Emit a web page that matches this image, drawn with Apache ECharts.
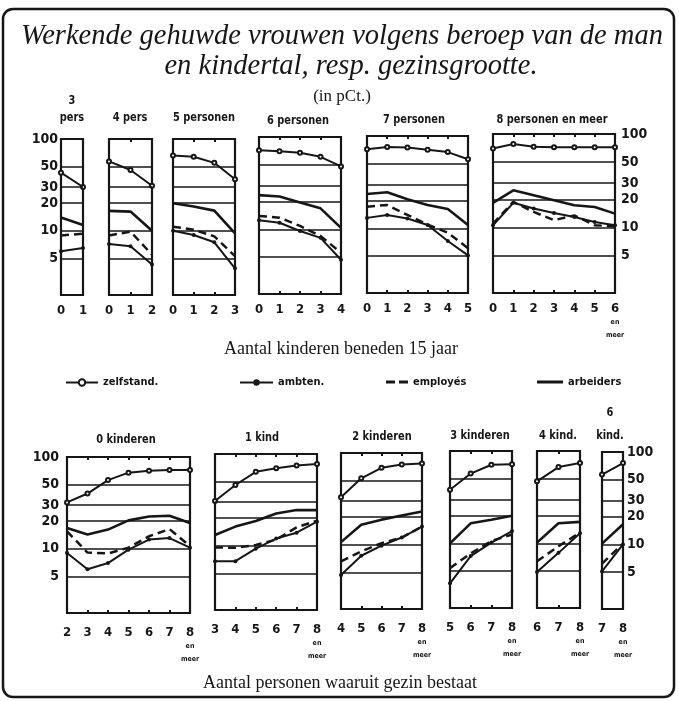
<!DOCTYPE html>
<html>
<head>
<meta charset="utf-8">
<script src="https://cdn.jsdelivr.net/npm/echarts@6/dist/echarts.min.js"></script>
<style>
  html, body { margin: 0; background: #fff; }
  #chart { width: 679px; height: 701px; }
</style>
</head>
<body>
<div id="chart"></div>
<script>
// waarden in pCt., logaritmische schaal
const yLabels = [5, 10, 20, 30, 50, 100];
const gridLines = [5, 10, 20, 30, 50];

// bovenste rij: gezinsgrootte, x = aantal kinderen beneden 15 jaar
const topTitles = ["3\npers", "4 pers", "5 personen", "6 personen", "7 personen", "8 personen en meer"];
const topCategories = [
  ["0", "1"],
  ["0", "1", "2"],
  ["0", "1", "2", "3"],
  ["0", "1", "2", "3", "4"],
  ["0", "1", "2", "3", "4", "5"],
  ["0", "1", "2", "3", "4", "5", "6"],
];
const topZelfstand = [
  [43, 30],
  [57, 46, 31],
  [66, 64, 55, 36.5],
  [72, 70, 67.5, 61, 48],
  [72, 76, 75, 71, 67, 56],
  [70, 78, 73, 72, 72, 72, 72],
];
const topAmbten = [
  [6, 6.5],
  [7.2, 6.8, 4.3],
  [10, 9, 7.5, 3.9],
  [12.6, 11.8, 9.6, 8.1, 4.7],
  [13, 14, 12.8, 10.9, 7.3, 5.1],
  [10.6, 18.4, 16, 14.3, 13, 11.5, 10.6],
];
const topEmployes = [
  [8.9, 9.3],
  [8.9, 9.8, 5.5],
  [11.1, 10.3, 8.7, 5.3],
  [14, 13.4, 10.9, 8.5, 5.6],
  [17.2, 17.9, 14, 11, 9, 6.1],
  [11, 18.8, 14.7, 12, 13.5, 10.6, 10.3],
];
const topArbeiders = [
  [14, 11.6],
  [16.5, 16.2, 10],
  [20, 18.4, 16.6, 9.4],
  [23.5, 22.7, 19.5, 16.9, 10.4],
  [23.6, 24.6, 20.7, 17.9, 16.2, 10.9],
  [18.4, 25, 22.2, 19.6, 17.3, 16.6, 14.1],
];

// onderste rij: aantal kinderen, x = aantal personen waaruit gezin bestaat
const bottomTitles = ["0 kinderen", "1 kind", "2 kinderen", "3 kinderen", "4 kind.", "6\nkind."];
const bottomCategories = [
  ["2", "3", "4", "5", "6", "7", "8"],
  ["3", "4", "5", "6", "7", "8"],
  ["4", "5", "6", "7", "8"],
  ["5", "6", "7", "8"],
  ["6", "7", "8"],
  ["7", "8"],
];
const bottomZelfstand = [
  [32, 40, 56, 67.5, 71, 72, 72],
  [30.8, 46, 64, 70, 75, 78],
  [33, 53, 69, 75, 77],
  [38, 57, 71, 72],
  [47, 67, 74],
  [57, 76],
];
const bottomAmbten = [
  [9, 6, 7, 9.8, 12.6, 13.1, 10.3],
  [6.8, 6.8, 9.3, 12, 13.9, 18.3],
  [4.7, 7.6, 9.8, 12, 15.8],
  [3.7, 7.3, 10.2, 13.6],
  [4.9, 7.9, 12.9],
  [5.1, 10],
];
const bottomEmployes = [
  [15.5, 9.1, 8.9, 10.3, 13.7, 16.4, 10.7],
  [9.6, 9.5, 10.2, 11.7, 15.9, 18.8],
  [6.6, 8.5, 10.4, 12, 15.8],
  [5.4, 7.8, 10.6, 12.5],
  [6.4, 9.3, 13.1],
  [6.2, 10.2],
];
const bottomArbeiders = [
  [16.9, 14.3, 16.2, 20.4, 22.5, 22.9, 19.1],
  [13.1, 16.2, 18.6, 22.5, 24.5, 24.5],
  [10.7, 16.5, 18.8, 20.9, 23.1],
  [10, 16.5, 18, 19.9],
  [10.2, 16.5, 17.1],
  [10.2, 16.5],
];

// plaats van de vakjes [left, top, width, height]
const boxes = [
  [61, 139, 22, 156], [109, 139, 43, 156], [173, 139, 62, 156],
  [259, 137, 82, 157], [367, 136, 101, 157], [493, 134, 122, 159],
  [67, 457, 123, 156], [215, 454, 102, 156], [341, 453, 81, 156],
  [450, 451, 62, 157], [537, 451, 43, 157], [602, 452, 21, 157],
];

const ink = "#161616";
const condensed = "'Liberation Sans Narrow', 'DejaVu Sans Condensed', 'Arial Narrow', sans-serif";
const serif = "'Liberation Serif', 'DejaVu Serif', serif";

const panels = [];
for (let i = 0; i < 6; i++) {
  panels.push({
    cats: topCategories[i], meer: i === 5, top: true,
    z: topZelfstand[i], a: topAmbten[i], e: topEmployes[i], w: topArbeiders[i],
  });
}
for (let i = 0; i < 6; i++) {
  panels.push({
    cats: bottomCategories[i], meer: true, top: false,
    z: bottomZelfstand[i], a: bottomAmbten[i], e: bottomEmployes[i], w: bottomArbeiders[i],
  });
}

const grid = [];
const xAxis = [];
const yAxis = [];
const series = [];

panels.forEach((p, i) => {
  const b = boxes[i];
  grid.push({
    left: b[0], top: b[1], width: b[2], height: b[3],
    show: true, borderColor: ink, borderWidth: 2.2, backgroundColor: "transparent",
  });
  const last = p.cats[p.cats.length - 1];
  xAxis.push({
    type: "category", gridIndex: i, data: p.cats, boundaryGap: false,
    axisLine: { show: false },
    axisTick: { show: true, inside: true, length: 3, lineStyle: { color: ink, width: 2 } },
    axisLabel: {
      interval: 0, color: ink, fontFamily: condensed, fontWeight: "bold", fontSize: 13,
      lineHeight: 15, margin: p.top ? 8 : 12,
      formatter: (v) => (p.meer && v === last ? v + "\n{s|en}\n{s|meer}" : v),
      rich: { s: { fontSize: 7, lineHeight: 13, fontWeight: "bold", fontFamily: condensed, color: ink } },
    },
  });
  xAxis.push({
    type: "category", gridIndex: i, data: p.cats, boundaryGap: false, position: "top",
    axisLine: { show: false }, axisLabel: { show: false },
    axisTick: { show: true, inside: true, length: 3, lineStyle: { color: ink, width: 2 } },
  });
  const leftLabels = i === 0 || i === 6;
  const rightLabels = i === 5 || i === 11;
  yAxis.push({
    type: "log", logBase: 10, min: 2, max: 100, gridIndex: i,
    position: rightLabels ? "right" : "left",
    axisLine: { show: false }, axisTick: { show: false }, splitLine: { show: false },
    axisLabel: {
      show: leftLabels || rightLabels,
      customValues: yLabels,
      formatter: (v) => String(Math.round(v)),
      color: ink, fontFamily: condensed, fontWeight: "bold", fontSize: 14,
      margin: i === 0 ? 3 : i === 6 ? 8 : i === 5 ? 6 : 4,
    },
  });

  const base = { type: "line", xAxisIndex: 2 * i, yAxisIndex: i, animation: false, silent: true, color: ink };
  series.push({
    ...base, name: "zelfstand.", data: p.z,
    symbol: "emptyCircle", symbolSize: 4, showSymbol: true,
    lineStyle: { color: ink, width: 2 },
    itemStyle: { color: ink, borderColor: ink, borderWidth: 1.4 },
    markLine: {
      silent: true, symbol: "none", label: { show: false },
      lineStyle: { color: ink, width: 1.5, type: "solid" },
      data: gridLines.map((v) => ({ yAxis: v })),
    },
  });
  series.push({
    ...base, name: "ambten.", data: p.a,
    symbol: "circle", symbolSize: 4, showSymbol: true,
    lineStyle: { color: ink, width: 2 }, itemStyle: { color: ink },
  });
  series.push({
    ...base, name: "employés", data: p.e, symbol: "none",
    lineStyle: { color: ink, width: 2.5, type: [8, 5] },
  });
  series.push({
    ...base, name: "arbeiders", data: p.w, symbol: "none",
    lineStyle: { color: ink, width: 2.6 },
  });
});

const legendText = { color: ink, fontFamily: condensed, fontWeight: "bold", fontSize: 11 };
const legend = [
  { data: ["zelfstand."], left: 60, top: 372, itemWidth: 32, itemHeight: 8 },
  { data: ["ambten."], left: 234, top: 372, itemWidth: 33, itemHeight: 8 },
  {
    data: [{ name: "employés", icon: "path://M0,0H9V3H0Z M13,0H22V3H13Z" }],
    left: 381, top: 371.5, itemWidth: 22, itemHeight: 3,
  },
  {
    data: [{ name: "arbeiders", icon: "rect" }],
    left: 532, top: 371.5, itemWidth: 26, itemHeight: 3,
  },
].map((l) => ({ ...l, itemGap: 0, textStyle: legendText, selectedMode: false }));

function label(text, x, y, lh) {
  return {
    type: "text", x: x, y: y, scaleX: 0.84, silent: true,
    style: {
      text: text, fill: ink, align: "center", verticalAlign: "middle",
      fontFamily: condensed, fontWeight: "bold", fontSize: 13, lineHeight: lh || 17,
    },
  };
}
function serifText(text, x, y, size, italic) {
  return {
    type: "text", x: x, y: y, silent: true,
    style: {
      text: text, fill: ink, align: "center", verticalAlign: "middle",
      fontFamily: serif, fontStyle: italic ? "italic" : "normal", fontSize: size,
    },
  };
}

const graphic = [
  {
    type: "rect", silent: true,
    shape: { x: 3, y: 9, width: 671, height: 688, r: 10 },
    style: { fill: "none", stroke: ink, lineWidth: 2.5 },
  },
  serifText("Werkende gehuwde vrouwen volgens beroep van de man", 342, 37, 28.5, true),
  serifText("en kindertal, resp. gezinsgrootte.", 351, 67, 28.5, true),
  serifText("(in pCt.)", 342, 97, 17, false),
  serifText("Aantal kinderen beneden 15 jaar", 341, 349, 18, false),
  serifText("Aantal personen waaruit gezin bestaat", 340, 683, 18, false),
  label(topTitles[0], 72, 109),
  label(topTitles[1], 130, 118),
  label(topTitles[2], 204, 118),
  label(topTitles[3], 298, 121),
  label(topTitles[4], 414, 120),
  label(topTitles[5], 552, 120),
  label(bottomTitles[0], 126, 440),
  label(bottomTitles[1], 262, 438),
  label(bottomTitles[2], 382, 437),
  label(bottomTitles[3], 480, 436),
  label(bottomTitles[4], 558, 436),
  label(bottomTitles[5], 610, 424.5, 23),
];

const chart = echarts.init(document.getElementById("chart"), null, { renderer: "canvas" });
chart.setOption({
  backgroundColor: "#fff",
  animation: false,
  legend: legend,
  grid: grid,
  xAxis: xAxis,
  yAxis: yAxis,
  series: series,
  graphic: graphic,
});
</script>
</body>
</html>
